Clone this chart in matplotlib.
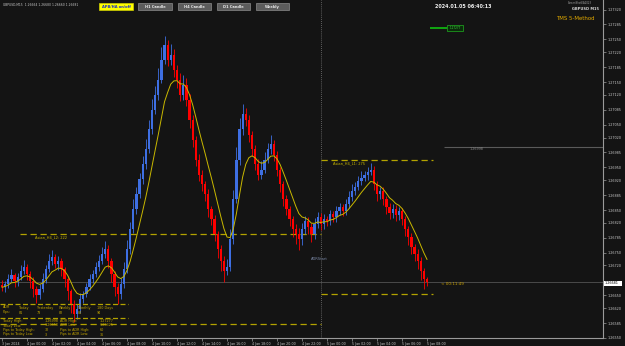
import matplotlib
matplotlib.use('Agg')
import matplotlib.pyplot as plt
import pandas as pd
from matplotlib.patches import Rectangle

W, H = 625, 346
BG = '#141414'

# ---------------- data ----------------
symbol_line = 'GBPUSD,M15  1.26664 1.26680 1.26660 1.26681'
clock_text = '2024.01.05 06:40:13'
first_open = 1.26675
closes = [
    1.26669, 1.26676, 1.26688, 1.26697, 1.26683, 1.26693, 1.26707, 1.26716,
    1.26700, 1.26683, 1.26665, 1.26651, 1.26665, 1.26688, 1.26711, 1.26730,
    1.26739, 1.26723, 1.26730, 1.26711, 1.26688, 1.26660, 1.26630, 1.26606,
    1.26618, 1.26641, 1.26653, 1.26669, 1.26688, 1.26700, 1.26716, 1.26730,
    1.26746, 1.26758, 1.26730, 1.26700, 1.26669, 1.26653, 1.26676, 1.26711,
    1.26758, 1.26805, 1.26852, 1.26887, 1.26922, 1.26957, 1.26992, 1.27039,
    1.27085, 1.27120, 1.27155, 1.27202, 1.27237, 1.27202, 1.27214, 1.27179,
    1.27155, 1.27120, 1.27144, 1.27109, 1.27062, 1.27015, 1.26968, 1.26933,
    1.26910, 1.26887, 1.26852, 1.26828, 1.26793, 1.26758, 1.26730, 1.26707,
    1.26716, 1.26781, 1.26875, 1.26968, 1.27039, 1.27074, 1.27062, 1.27027,
    1.26992, 1.26957, 1.26933, 1.26945, 1.26968, 1.26992, 1.27004, 1.26980,
    1.26945, 1.26910, 1.26875, 1.26852, 1.26828, 1.26805, 1.26793, 1.26781,
    1.26805, 1.26824, 1.26810, 1.26793, 1.26817, 1.26833, 1.26817, 1.26828,
    1.26824, 1.26840, 1.26833, 1.26847, 1.26856, 1.26847, 1.26863, 1.26880,
    1.26894, 1.26903, 1.26917, 1.26926, 1.26931, 1.26940, 1.26945, 1.26910,
    1.26887, 1.26894, 1.26875, 1.26856, 1.26842, 1.26852, 1.26838, 1.26847,
    1.26828, 1.26805, 1.26786, 1.26763, 1.26746, 1.26730, 1.26707, 1.26688,
    1.26681,
]
# wick lengths in pips
wick_up_pips = [
    1.0, 0.8, 1.2, 1.5, 0.6, 1.0, 1.4, 1.8, 0.8, 0.6, 1.0, 0.7, 1.2, 1.5, 1.0, 1.6,
    1.8, 0.9, 1.2, 0.7, 0.5, 0.8, 0.6, 0.9, 1.1, 1.4, 0.8, 1.0, 1.3, 0.9, 1.2, 1.5,
    1.8, 2.0, 1.0, 0.8, 0.6, 0.9, 1.5, 1.8, 2.2, 1.6, 2.4, 1.8, 1.5, 2.0, 2.5, 2.2,
    2.6, 2.0, 2.8, 3.0, 2.0, 1.2, 2.5, 1.4, 1.0, 1.6, 2.2, 1.5, 1.2, 1.0, 0.8, 1.4,
    1.0, 0.9, 1.2, 0.8, 1.0, 0.7, 0.9, 1.2, 2.0, 2.5, 2.2, 3.0, 2.6, 2.4, 1.5, 1.0,
    0.8, 1.0, 1.2, 2.0, 1.8, 1.5, 2.2, 1.0, 0.8, 0.7, 0.9, 1.0, 0.8, 0.7, 1.2, 1.4,
    1.5, 1.2, 1.0, 0.9, 1.4, 1.2, 1.0, 1.3, 0.9, 1.1, 0.8, 1.2, 1.0, 0.9, 1.3, 1.4,
    1.6, 1.2, 1.3, 1.5, 1.0, 1.2, 1.6, 0.8, 0.7, 1.0, 0.9, 0.8, 1.0, 1.2, 0.9, 1.1,
    0.8, 0.9, 0.7, 1.0, 0.8, 1.2, 0.9, 0.8, 0.6,
]
wick_dn_pips = [
    0.8, 1.2, 0.9, 0.6, 1.4, 1.2, 0.8, 0.7, 1.5, 1.6, 1.8, 2.0, 1.0, 0.8, 0.9, 0.7,
    0.8, 1.0, 1.4, 1.6, 1.8, 2.0, 2.2, 1.8, 1.2, 0.9, 1.0, 0.8, 0.7, 1.0, 0.8, 0.9,
    0.7, 0.8, 1.5, 1.8, 2.0, 2.4, 1.2, 0.9, 0.8, 1.0, 0.8, 1.2, 0.9, 1.0, 1.1, 0.8,
    1.0, 0.9, 1.2, 0.8, 1.0, 1.5, 1.2, 1.6, 1.8, 1.4, 1.2, 1.6, 2.0, 1.8, 1.5, 1.4,
    1.6, 1.5, 1.8, 1.4, 1.6, 2.0, 2.4, 2.6, 1.0, 0.8, 1.0, 0.9, 1.2, 1.4, 1.6, 1.8,
    1.6, 1.4, 1.2, 1.0, 0.9, 0.8, 1.0, 1.4, 1.6, 1.8, 1.6, 1.4, 1.5, 1.8, 2.2, 2.5,
    1.4, 1.2, 1.6, 1.8, 1.2, 1.0, 1.3, 1.1, 1.2, 0.9, 1.0, 1.1, 0.8, 1.0, 0.9, 0.8,
    0.8, 0.9, 0.7, 0.8, 0.9, 1.0, 0.8, 1.4, 1.6, 1.2, 1.4, 1.5, 1.2, 1.0, 1.3, 1.2,
    1.4, 1.6, 1.8, 1.5, 1.6, 1.8, 2.0, 2.2, 1.0,
]
PIP = 0.0001

time_labels = ['3 Jan 2024', '4 Jan 00:00', '4 Jan 02:00', '4 Jan 04:00', '4 Jan 06:00',
               '4 Jan 08:00', '4 Jan 10:00', '4 Jan 12:00', '4 Jan 14:00', '4 Jan 16:00',
               '4 Jan 18:00', '4 Jan 20:00', '4 Jan 22:00', '5 Jan 00:00', '5 Jan 02:00',
               '5 Jan 04:00', '5 Jan 06:00', '5 Jan 08:00']
bars_per_label = 8
price_labels = ['1.27320', '1.27285', '1.27250', '1.27220', '1.27185', '1.27150', '1.27120',
                '1.27085', '1.27050', '1.27020', '1.26985', '1.26950', '1.26920', '1.26885',
                '1.26850', '1.26820', '1.26785', '1.26750', '1.26720',
                '1.26650', '1.26620', '1.26585', '1.26550']
bid = 1.26681
bid_text = '1.26681'
today_high = 1.26998
adr_high = 1.27277
h4_l1 = 1.26968
h4_l1_text = 'Asian_H4_L1: 275'
h4_l2 = 1.26793
h4_l2_text = 'Asian_H4_L2: 222'
today_low_level = 1.26653
prev_low_level = 1.26583
adr_start_bar = 102
countdown = '< 00:11:49'

panel_head = ['ADR', 'Today', 'Yesterday', 'Weekly', 'Monthly', '180 Days']
panel_pips = ['Pips:', '81', '73', '82', '84', '94']
panel_rows = [
    ['Today High:', '1.26998', 'ADR High:', '1.27277'],
    ['Today Low:', '1.26650', 'ADR Low:', '1.26325'],
    ['Pips to Today High:', '32', 'Pips to ADR High:', '60'],
    ['Pips to Today Low:', '3', 'Pips to ADR Low:', '36'],
]
buttons = ['APB/HA on/off', 'H1 Candle', 'H4 Candle', 'D1 Candle', 'Weekly']

# ---------------- figure ----------------
fig = plt.figure(figsize=(W / 100, H / 100), dpi=100)
fig.patch.set_facecolor(BG)

PX_PER_BAR = 3.125
K = 2.337e-5          # price per pixel
Y_BID = 283           # pixel row of bid
AX_R, AX_B = 603, 338

def xd(px):
    return (px - 2) / PX_PER_BAR

def yd(py):
    return bid + (Y_BID - py) * K

ax = fig.add_axes([0, (H - AX_B) / H, AX_R / W, AX_B / H])
ax.set_facecolor(BG)
ax.set_xlim(xd(0), xd(AX_R))
ax.set_ylim(yd(AX_B), yd(0))

for s in ['top', 'left']:
    ax.spines[s].set_visible(False)
for s in ['right', 'bottom']:
    ax.spines[s].set_color('#9a9a9a')
    ax.spines[s].set_linewidth(0.8)

# candles
opens = [first_open] + closes[:-1]
bull_c, bear_c = '#3e6fe3', '#ff0000'
for i, (o, c, wu, wl) in enumerate(zip(opens, closes, wick_up_pips, wick_dn_pips)):
    col = bull_c if c >= o else bear_c
    hi = max(o, c) + wu * PIP
    lo = min(o, c) - wl * PIP
    ax.vlines(i, lo, hi, color=col, lw=0.6, zorder=3)
    bh = max(abs(c - o), 0.000015)
    ax.add_patch(Rectangle((i - 0.36, min(o, c)), 0.72, bh, facecolor=col,
                           edgecolor='none', zorder=4))

# yellow moving average
ma = pd.Series(closes).ewm(span=8, adjust=False).mean()
ax.plot(range(len(closes)), ma, color='#c9b800', lw=0.7, zorder=5)

# levels
lvl_col = '#b3a300'
dash = (0, (5, 3))
ax.hlines(h4_l2, xd(20), adr_start_bar, color=lvl_col, lw=0.9, linestyles=dash, zorder=2)
ax.hlines(prev_low_level, xd(0), adr_start_bar, color=lvl_col, lw=0.9, linestyles=dash, zorder=2)
ax.hlines(h4_l1, adr_start_bar, len(closes) + 1, color=lvl_col, lw=0.9, linestyles=dash, zorder=2)
ax.hlines(today_low_level, adr_start_bar, len(closes) + 1, color=lvl_col, lw=0.9, linestyles=dash, zorder=2)
ax.axhline(bid, color='#4a4a4a', lw=0.7, zorder=1)
ax.hlines(today_high, xd(444), xd(AX_R), color='#5a5a5a', lw=0.8, zorder=1)
ax.axvline(adr_start_bar, color='#7a7a7a', lw=0.6, ls=(0, (1, 1.5)), zorder=1)
ax.hlines(adr_high, xd(430), xd(447), color='#10c010', lw=1.2, zorder=6)

# ticks
ax.yaxis.tick_right()
ax.set_yticks([float(p) for p in price_labels])
ax.set_yticklabels(price_labels)
ax.tick_params(axis='y', colors='#9a9a9a', labelcolor='#c8c8c8', labelsize=2.4,
               length=2, width=0.5, pad=1)
ax.set_xticks([k * bars_per_label for k in range(len(time_labels))])
ax.set_xticklabels(time_labels, ha='left')
ax.tick_params(axis='x', colors='#9a9a9a', labelcolor='#c8c8c8', labelsize=2.3,
               length=2, width=0.5, pad=1)

# ---------------- overlay (pixel coordinates) ----------------
ov = fig.add_axes([0, 0, 1, 1])
ov.set_xlim(0, W)
ov.set_ylim(H, 0)
ov.axis('off')
ov.patch.set_alpha(0)

def t(x, y, s, **kw):
    kw.setdefault('fontsize', 2.4)
    kw.setdefault('color', '#c8c8c8')
    kw.setdefault('va', 'center')
    ov.text(x, y, s, **kw)

t(3, 5, symbol_line, fontsize=2.2)
# buttons
bx = [(99, 133), (138, 172), (178, 211), (217, 250), (256, 289)]
for (x0, x1), lab in zip(bx, buttons):
    if lab.startswith('APB'):
        ov.add_patch(Rectangle((x0, 3), x1 - x0, 7, facecolor='#ffff00', edgecolor='#d0d000', lw=0.5))
        t((x0 + x1) / 2, 6.6, lab, ha='center', color='#1a2fc0', fontsize=2.6, fontweight='bold')
    else:
        ov.add_patch(Rectangle((x0, 3), x1 - x0, 7, facecolor='#5c5c5c', edgecolor='#8a8a8a', lw=0.5))
        t((x0 + x1) / 2, 6.6, lab, ha='center', color='#e8e8e8', fontsize=2.6, fontweight='bold')

t(435, 6, clock_text, fontsize=3.5, color='#f0f0f0', fontweight='bold')
t(568, 3, 'ScreenShotEA2023', fontsize=1.8, color='#a0a0a0')
t(572, 8.5, 'GBPUSD M15', fontsize=2.6, color='#d8d8d8', fontweight='bold')
t(556, 18, 'TMS 5-Method', fontsize=3.9, color='#e0a800')

# green ADR high label
ov.add_patch(Rectangle((447, 25), 16, 6, facecolor='#0b2b0b', edgecolor='#20b020', lw=0.5))
t(455, 28, '1.27277', ha='center', fontsize=2.0, color='#40d040')
t(470, 149, '1.26998', fontsize=2.4, color='#8a8a8a')

# level labels
t(35, 237, h4_l2_text, fontsize=2.6, color='#c9b800')
t(333, 163, h4_l1_text, fontsize=2.6, color='#c9b800')
t(311, 259, 'ADRStart', fontsize=2.6, color='#7c8aa8')
t(441, 284, countdown, fontsize=3.0, color='#c9a000')

# bid label
ov.add_patch(Rectangle((604, 280.5), 18, 5.5, facecolor='#ffffff', edgecolor='none', zorder=10))
t(605, 283.3, bid_text, fontsize=2.4, color='#000000', zorder=11)

# info panel
pc = '#c4a600'
ov.plot([0, 128], [304, 304], color=lvl_col, lw=0.9, ls=(0, (4, 2)))
ov.plot([0, 128], [318, 318], color=lvl_col, lw=0.9, ls=(0, (4, 2)))
cols = [3, 19, 37, 59, 78, 97]
for xx, s in zip(cols, panel_head):
    t(xx, 307.5, s, color=pc, fontsize=2.4)
for xx, s in zip(cols, panel_pips):
    t(xx, 312.5, s, color=pc, fontsize=2.4)
rows_y = [321, 325.5, 330, 334.5]
for yy, row in zip(rows_y, panel_rows):
    for xx, s in zip([3, 45, 60, 100], row):
        t(xx, yy, s, color=pc, fontsize=2.4)

fig.savefig('out.png', dpi=100, facecolor=BG)
